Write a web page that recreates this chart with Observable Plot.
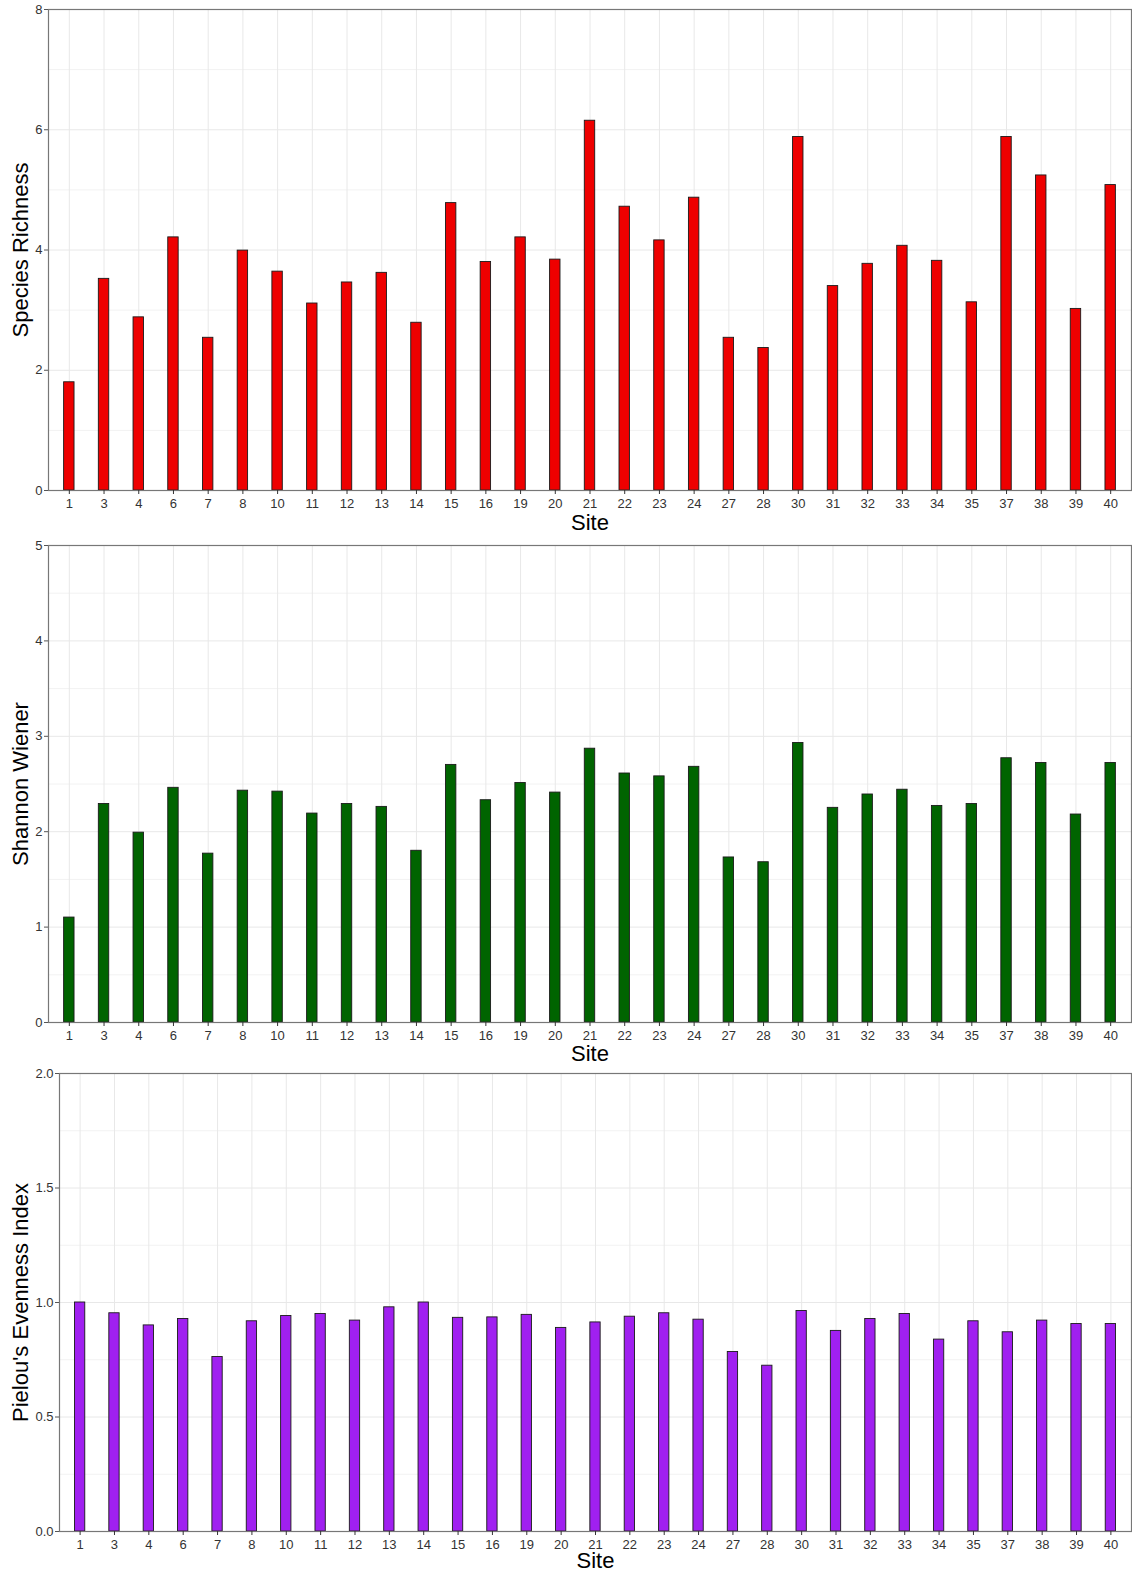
<!DOCTYPE html>
<html>
<head>
<meta charset="utf-8">
<script src="https://cdn.jsdelivr.net/npm/d3@7"></script>
<script src="https://cdn.jsdelivr.net/npm/@observablehq/plot@0.6"></script>
<style>
  html, body { margin: 0; padding: 0; background: #fff; }
  #chart svg { display: block; }
  #chart svg [aria-label$="tick label"] { font-size: 13px !important; }
</style>
</head>
<body>
<div id="chart"></div>
<script>
const sites = ["1","3","4","6","7","8","10","11","12","13","14","15","16","19","20","21","22","23","24","27","28","30","31","32","33","34","35","37","38","39","40"];
const richness = [1.80,3.52,2.88,4.21,2.54,3.99,3.64,3.11,3.46,3.62,2.79,4.78,3.80,4.21,3.84,6.15,4.72,4.16,4.87,2.54,2.37,5.88,3.40,3.77,4.07,3.82,3.13,5.88,5.24,3.02,5.08];
const shannon = [1.10,2.29,1.99,2.46,1.77,2.43,2.42,2.19,2.29,2.26,1.80,2.70,2.33,2.51,2.41,2.87,2.61,2.58,2.68,1.73,1.68,2.93,2.25,2.39,2.44,2.27,2.29,2.77,2.72,2.18,2.72];
const evenness = [1.00,0.953,0.90,0.928,0.762,0.918,0.941,0.950,0.921,0.979,1.00,0.933,0.935,0.946,0.889,0.913,0.938,0.953,0.925,0.784,0.724,0.963,0.876,0.928,0.950,0.838,0.918,0.870,0.921,0.906,0.906];

const richTicks = [0,2,4,6,8];
const richMinor = [1,3,5,7];
const shanTicks = [0,1,2,3,4,5];
const shanMinor = [0.5,1.5,2.5,3.5,4.5];
const evenTicks = [0,0.5,1,1.5,2];
const evenMinor = [0.25,0.75,1.25,1.75];

const FONT = "'Liberation Sans', Arial, sans-serif";

function panel({values, fill, label, domain, ticks, minor, fmt, height, mt, mb, ml, siteDy}) {
  const data = sites.map((s, i) => ({site: s, value: values[i]}));
  return Plot.plot({
    width: 1132,
    height,
    marginTop: mt,
    marginBottom: mb,
    marginLeft: ml,
    marginRight: 1,
    style: {fontFamily: FONT, fontSize: "13px", color: "#333", background: "#fff"},
    x: {type: "band", domain: sites, paddingInner: 0.7, paddingOuter: 0.45, align: 0.5, round: false},
    y: {domain, nice: false},
    marks: [
      Plot.gridY(minor, {stroke: "#f2f2f2", strokeOpacity: 1, strokeWidth: 1}),
      Plot.gridY(ticks, {stroke: "#e8e8e8", strokeOpacity: 1, strokeWidth: 1}),
      Plot.gridX(sites, {stroke: "#e8e8e8", strokeOpacity: 1, strokeWidth: 1}),
      Plot.barY(data, {x: "site", y: "value", fill, stroke: "#1a1a1a", strokeWidth: 0.9}),
      Plot.frame({stroke: "#777", strokeWidth: 1.2}),
      Plot.axisY(ticks, {tickFormat: () => "", tickSize: 4, label: null, color: "#555"}),
      Plot.text(ticks, {y: (d) => d, frameAnchor: "left", text: fmt, textAnchor: "end", lineAnchor: "middle", dx: -6, fontSize: 13, fill: "#333"}),
      Plot.axisX(sites, {tickSize: 4, tickPadding: 4, label: null, fontSize: 13, color: "#333"}),
      Plot.text([label], {frameAnchor: "left", textAnchor: "middle", lineAnchor: "middle", rotate: -90, dx: 20 - ml, fontSize: 22, fill: "#000"}),
      Plot.text(["Site"], {frameAnchor: "bottom", textAnchor: "middle", lineAnchor: "middle", dy: siteDy, fontSize: 22, fill: "#000"})
    ]
  });
}

const el = document.getElementById("chart");
el.append(panel({values: richness, fill: "#ee0000", label: "Species Richness", domain: [0, 8], ticks: richTicks, minor: richMinor, fmt: d3.format("d"), height: 536, mt: 9, mb: 46, ml: 48, siteDy: 32}));
el.append(panel({values: shannon, fill: "#006400", label: "Shannon Wiener", domain: [0, 5], ticks: shanTicks, minor: shanMinor, fmt: d3.format("d"), height: 530, mt: 9, mb: 44, ml: 48, siteDy: 31}));
el.append(panel({values: evenness, fill: "#a020f0", label: "Pielou's Evenness Index", domain: [0, 2], ticks: evenTicks, minor: evenMinor, fmt: d3.format(".1f"), height: 508, mt: 7, mb: 43, ml: 59, siteDy: 29}));
</script>
</body>
</html>
